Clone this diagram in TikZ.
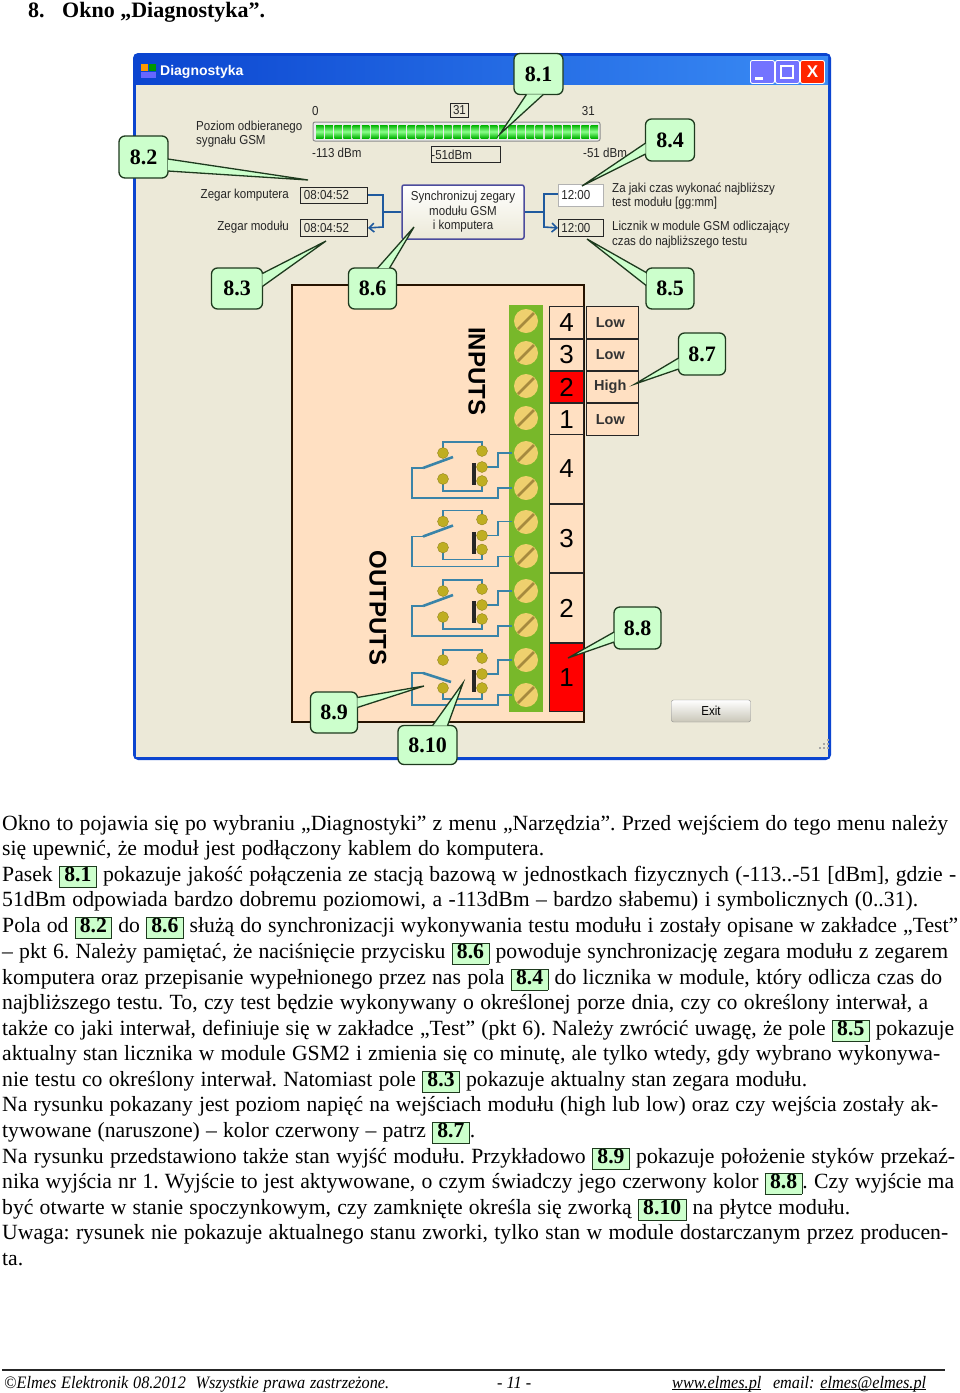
\documentclass[tikz,border=0pt]{standalone}
\usepackage{fontspec}
\setmainfont{Liberation Serif}
\newfontfamily\uifont{Liberation Sans}
\newfontfamily\uinarrow[FakeStretch=0.89]{Liberation Sans}
\newfontfamily\footfont[FakeStretch=0.93]{Liberation Serif}
\usetikzlibrary{matrix,arrows.meta}

\definecolor{wingrey}{HTML}{ECE9D8}
\definecolor{winblue}{HTML}{0B45D0}
\definecolor{titlelight}{HTML}{3A8CF5}
\definecolor{boardpeach}{HTML}{FFE0C2}
\definecolor{stripgreen}{HTML}{78B82A}
\definecolor{screwyellow}{HTML}{EFD06E}
\definecolor{screwbrown}{HTML}{A68A3E}
\definecolor{wireblue}{HTML}{3A84A8}
\definecolor{ballolive}{HTML}{BFAE22}
\definecolor{lblgreen}{HTML}{CCFFCC}
\definecolor{lblline}{HTML}{1E3A1E}
\definecolor{arrowblue}{HTML}{1F5A9E}

\frenchspacing
\setlength{\fboxrule}{0.8pt}
\setlength{\fboxsep}{0pt}
\newcommand{\lbl}[1]{\fcolorbox{lblline}{lblgreen}{\kern4.5pt\rule[-5.5pt]{0pt}{20pt}\textbf{#1}\kern4.5pt}}
\newcommand{\fillline}[2]{\makebox[#1pt][s]{#2}}
\newlength{\ulwidth}
\newcommand{\ulined}[1]{\settowidth{\ulwidth}{#1}\rlap{\rule[-2.2pt]{\ulwidth}{0.8pt}}#1}

\begin{document}
\begin{tikzpicture} [x=1pt, y=-1pt,
	bodyline/.style={anchor=base west, inner sep=0pt, font=\fontsize{21.7}{25}\selectfont},
	footline/.style={bodyline, font=\footfont\itshape\fontsize{17.5}{20}\selectfont},
	uilabel/.style={anchor=west, inner sep=0pt, font=\uinarrow\fontsize{13}{14}\selectfont, text=black!85},
	uilabelr/.style={uilabel, anchor=east},
	uibox/.style={draw=black!85, line width=0.9pt, inner sep=0pt, anchor=north west, font=\uinarrow\fontsize{13}{14}\selectfont, text=black!85},
	titlebtn/.style={draw=white, line width=0.9pt, rounded corners=2pt, anchor=north west, minimum width=24pt, minimum height=23pt, inner sep=0pt},
	calloutbox/.style={draw=lblline, fill=lblgreen, line width=1.3pt, rounded corners=6pt, inner sep=0pt, font=\bfseries\fontsize{22}{25}\selectfont},
	tailline/.style={draw=lblline, fill=lblgreen, line width=1.3pt, line join=miter},
	wire/.style={draw=wireblue, line width=1.2pt},
	ball/.style={circle, fill=ballolive, draw=ballolive!70!black, line width=0.3pt, minimum size=11pt, inner sep=0pt},
	bluelink/.style={draw=arrowblue, line width=1.6pt}]
	\useasboundingbox[fill=white] (0,0) rectangle (960,1393);

	% heading
	\node[bodyline, font=\bfseries\fontsize{22}{25}\selectfont] (headnr) at (28,17) {8.};
	\node[bodyline, font=\bfseries\fontsize{22}{25}\selectfont] (headtxt) at (62,17) {Okno „Diagnostyka”.};

	% window
	\fill[winblue, rounded corners=5pt] (133,53) rectangle (831,760);
	\shade[left color=winblue, right color=titlelight] (136,56) rectangle (828,85);
	\fill[wingrey] (136,85) rectangle (828,757);
	\fill[orange!80!yellow] (141,64) rectangle (148,71);
	\fill[green!60!black] (149,64) rectangle (156,71);
	\fill[blue!60] (141,72) rectangle (156,78);
	\node[uilabel, text=white, font=\uifont\bfseries\fontsize{14}{16}\selectfont] (wintitle) at (160,72) {Diagnostyka};
	\node[titlebtn, fill=blue!55!white] (btnmin) at (750,60) {};
	\node[titlebtn, fill=blue!55!white] (btnmax) at (775,60) {};
	\node[titlebtn, fill=red!70!orange] (btnclose) at (800,60) {\textcolor{white}{\uifont\bfseries\fontsize{17}{17}\selectfont X}};
	\fill[white] (755,77) rectangle (763,80);
	\draw[white, line width=1.4pt] (781,66) rectangle (793,78);
	\foreach \i in {0,1,2}
		\foreach \j in {0,...,\i}
			\fill[black!35] (827-\j*4,755-\i*4+\j*4-8) rectangle ++(2,2);

	% signal level
	\node[uilabel] (lev0) at (312,111) {0};
	\node[uibox, minimum width=18pt, minimum height=14pt] (levbox) at (450,103) {31};
	\node[uilabelr] (levmax) at (595,111) {31};
	\node[uilabel] (levtxta) at (196,127) {Poziom odbieranego};
	\node[uilabel] (levtxtb) at (196,141) {sygnału GSM};
	\draw[black!45, fill=black!8, line width=1pt, rounded corners=2pt] (313,122) rectangle (600,141);
	\foreach \i in {0,...,30}
		\shade[top color=green!70!black, bottom color=green!70!black, middle color=green!45!white] (316+\i*9.15,125) rectangle ++(7.6,13);
	\node[uilabel] (dbmmin) at (312,153) {-113 dBm};
	\node[uibox, minimum width=68pt, minimum height=16pt, align=left] (dbmbox) at (431,146) {-51dBm\hspace*{28pt}};
	\node[uilabel] (dbmmax) at (583,153) {-51 dBm};

	% clocks
	\node[uilabelr] (pclabel) at (289,195) {Zegar komputera};
	\node[uilabelr] (modlabel) at (289,227) {Zegar modułu};
	\node[uibox, fill=wingrey, minimum width=67pt, minimum height=16pt] (pcclock) at (300,187) {08:04:52\hspace*{15pt}};
	\node[uibox, fill=wingrey, minimum width=67pt, minimum height=17pt] (modclock) at (300,219) {08:04:52\hspace*{15pt}};
	\node[draw=blue!45!black!70!white, line width=1.5pt, top color=white, bottom color=wingrey, rounded corners=2pt, minimum width=122pt, minimum height=54pt, inner sep=0pt, align=center, font=\uinarrow\fontsize{13}{14.5}\selectfont, text=black!85] (syncbtn) at (463,212) {Synchronizuj zegary\\modułu GSM\\i komputera};
	\node[uibox, draw=black!30, line width=0.6pt, fill=white, minimum width=45pt, minimum height=22pt] (testset) at (558,184) {12:00\hspace*{10pt}};
	\node[uibox, fill=wingrey, minimum width=45pt, minimum height=17pt] (testcnt) at (558,219) {12:00\hspace*{10pt}};
	\node[uilabel] (settxta) at (612,189) {Za jaki czas wykonać najbliższy};
	\node[uilabel] (settxtb) at (612,203) {test modułu [gg:mm]};
	\node[uilabel] (cnttxta) at (612,227) {Licznik w module GSM odliczający};
	\node[uilabel] (cnttxtb) at (612,242) {czas do najbliższego testu};

	\draw[bluelink] (syncbtn.west) -- (383,212) -- (383,195) -- (pcclock.east |- 0,195);
	\draw[bluelink, -{Straight Barb[length=5pt,width=9pt]}] (383,212) -- (383,227) -- (modclock.east);
	\draw[bluelink] (syncbtn.east) -- (544,212) -- (544,194) -- (testset.west |- 0,194);
	\draw[bluelink, -{Straight Barb[length=5pt,width=9pt]}] (544,212) -- (544,227) -- (testcnt.west);

	% board
	\draw[fill=boardpeach, draw=black!85!orange, line width=1.5pt] (292,285) rectangle (584,722);
	\fill[stripgreen] (509,305) rectangle (543,712);
	\foreach \sy in {321,353,386,418,453,488,522,556,591,625,660,695} {
		\fill[screwyellow] (526,\sy) circle (12);
		\draw[screwbrown, line width=2.6pt] (518,\sy+8) -- (534,\sy-8);
	}
	\node[rotate=-90, inner sep=0pt, font=\uifont\bfseries\fontsize{24}{26}\selectfont] (inputstxt) at (477,371) {INPUTS};
	\node[rotate=-90, inner sep=0pt, font=\uifont\bfseries\fontsize{24}{26}\selectfont] (outputstxt) at (378,608) {OUTPUTS};

	% relays
	\foreach \ry [count=\ri] in {0,68.5,138} {
		\draw[wire] (443,453+\ry) -- (443,442+\ry) -- (482,442+\ry) -- (482,451+\ry);
		\draw[wire] (443,479+\ry) -- (443,491+\ry) -- (482,491+\ry) -- (482,481+\ry);
		\draw[wire] (482,467+\ry) -- (498,467+\ry) -- (498,453+\ry) -- (512,453+\ry);
		\draw[wire] (423,468+\ry) -- (412,468+\ry) -- (412,498+\ry) -- (498,498+\ry) -- (498,488+\ry) -- (512,488+\ry);
		\draw[wireblue, line width=2.6pt] (423,468+\ry) -- (453,457+\ry);
		\fill[black!85] (472,463+\ry) rectangle (476,485+\ry);
		\node[ball] (balla\ri) at (443,453+\ry) {};
		\node[ball] (ballb\ri) at (443,479+\ry) {};
		\node[ball] (ballc\ri) at (482,451+\ry) {};
		\node[ball] (balld\ri) at (482,467+\ry) {};
		\node[ball] (balle\ri) at (482,481+\ry) {};
	}
	\draw[wire] (443,660) -- (443,650) -- (482,650) -- (482,658);
	\draw[wire] (443,688) -- (443,699) -- (482,699) -- (482,688);
	\draw[wire] (482,674) -- (498,674) -- (498,660) -- (512,660);
	\draw[wire] (423,673) -- (412,673) -- (412,705) -- (498,705) -- (498,695) -- (512,695);
	\draw[wireblue, line width=2.6pt] (423,673) -- (451,682);
	\fill[black!85] (472,670) rectangle (476,692);
	\node[ball] (balla4) at (443,660) {};
	\node[ball] (ballb4) at (443,688) {};
	\node[ball] (ballc4) at (482,658) {};
	\node[ball] (balld4) at (482,674) {};
	\node[ball] (balle4) at (482,688) {};

	% input and output tables
	\matrix(inputs)[matrix of nodes, anchor=north west, inner sep=0pt, outer sep=0pt,
	row sep=-\pgflinewidth, column sep=2pt,
	column 1/.style={nodes={minimum width=34pt, font=\uifont\fontsize{26}{26}\selectfont}},
	column 2/.style={nodes={minimum width=52pt, font=\uifont\bfseries\fontsize{14.5}{16}\selectfont, text=black!80, execute at end node=\hspace*{5pt}}},
	row 3 column 1/.style={nodes={fill=red}},
	nodes={anchor=center, draw=black!85, line width=1.2pt, fill=boardpeach, minimum height=31.6pt, inner sep=0pt, outer sep=0pt}] at (549,306)
	{
		4 & Low \\
		3 & Low \\
		2 & High \\
		1 & Low \\
	};
	\matrix(outputs)[matrix of nodes, anchor=north west, inner sep=0pt, outer sep=0pt,
	row sep=-\pgflinewidth,
	row 4/.style={nodes={fill=red}},
	nodes={anchor=center, draw=black!85, line width=1.2pt, fill=boardpeach, minimum width=34pt, minimum height=68.7pt, inner sep=0pt, outer sep=0pt, font=\uifont\fontsize{26}{26}\selectfont}] at (549,434)
	{
		4 \\
		3 \\
		2 \\
		1 \\
	};

	% exit
	\node[draw=black!45, top color=white, bottom color=wingrey!85!black, rounded corners=2pt, minimum width=79pt, minimum height=22pt, inner sep=0pt, font=\uinarrow\fontsize{13}{14}\selectfont] (exitbtn) at (711,711) {Exit};

	% callouts
	\node[calloutbox, minimum width=49pt, minimum height=41pt] (lab81) at (538.5,74) {8.1};
	\node[calloutbox, minimum width=49pt, minimum height=42pt] (lab82) at (143.5,157) {8.2};
	\node[calloutbox, minimum width=51pt, minimum height=41pt] (lab83) at (237,288.5) {8.3};
	\node[calloutbox, minimum width=48pt, minimum height=41pt] (lab86) at (372.5,288.5) {8.6};
	\node[calloutbox, minimum width=49pt, minimum height=42pt] (lab84) at (670,140) {8.4};
	\node[calloutbox, minimum width=48pt, minimum height=41pt] (lab85) at (670,288.5) {8.5};
	\node[calloutbox, minimum width=47pt, minimum height=42pt] (lab87) at (702,354) {8.7};
	\node[calloutbox, minimum width=47pt, minimum height=42pt] (lab88) at (637.5,628) {8.8};
	\node[calloutbox, minimum width=47pt, minimum height=41pt] (lab89) at (334,712.5) {8.9};
	\node[calloutbox, minimum width=59pt, minimum height=39pt] (lab810) at (427.5,745) {8.10};

	\coordinate (tip81) at (500,134);
	\coordinate (tip82) at (308,180);
	\coordinate (tip83) at (326,241);
	\coordinate (tip86) at (414,227);
	\coordinate (tip84) at (582,186);
	\coordinate (tip85) at (587,239);
	\coordinate (tip87) at (635,384);
	\coordinate (tip88) at (568,658);
	\coordinate (tip89) at (424,686);
	\coordinate (tip810) at (463,683);

	\draw[tailline] ([xshift=-12pt,yshift=0.8pt]lab81.south) -- (tip81) -- ([xshift=5pt,yshift=0.8pt]lab81.south);
	\draw[tailline] ([xshift=-0.8pt,yshift=-2pt]lab82.east) -- (tip82) -- ([xshift=-0.8pt,yshift=-14pt]lab82.east);
	\draw[tailline] ([xshift=-0.8pt,yshift=15pt]lab83.east) -- (tip83) -- ([xshift=-0.8pt,yshift=2pt]lab83.east);
	\draw[tailline] ([xshift=5pt,yshift=-0.8pt]lab86.north) -- (tip86) -- ([xshift=17pt,yshift=-0.8pt]lab86.north);
	\draw[tailline] ([xshift=0.8pt,yshift=-3pt]lab84.west) -- (tip84) -- ([xshift=0.8pt,yshift=-14pt]lab84.west);
	\draw[tailline] ([xshift=0.8pt,yshift=16pt]lab85.west) -- (tip85) -- ([xshift=0.8pt,yshift=3pt]lab85.west);
	\draw[tailline] ([xshift=0.8pt,yshift=-4pt]lab87.west) -- (tip87) -- ([xshift=0.8pt,yshift=-15pt]lab87.west);
	\draw[tailline] ([xshift=0.8pt,yshift=-4pt]lab88.west) -- (tip88) -- ([xshift=0.8pt,yshift=-14pt]lab88.west);
	\draw[tailline] ([xshift=-0.8pt,yshift=15pt]lab89.east) -- (tip89) -- ([xshift=-0.8pt,yshift=5pt]lab89.east);
	\draw[tailline] ([xshift=5pt,yshift=-0.8pt]lab810.north) -- (tip810) -- ([xshift=20pt,yshift=-0.8pt]lab810.north);

	% text
	\node[bodyline] (line1) at (2,830) {\fillline{946}{Okno to pojawia się po wybraniu „Diagnostyki” z menu „Narzędzia”. Przed wejściem do tego menu należy}};
	\node[bodyline] (line2) at (2,855.5) {\fillline{542}{się upewnić, że moduł jest podłączony kablem do komputera.}};
	\node[bodyline] (line3) at (2,881) {\fillline{954}{Pasek \lbl{8.1} pokazuje jakość połączenia ze stacją bazową w jednostkach fizycznych (-113..-51 [dBm], gdzie -}};
	\node[bodyline] (line4) at (2,906.5) {\fillline{916}{51dBm odpowiada bardzo dobremu poziomowi, a -113dBm – bardzo słabemu) i symbolicznych (0..31).}};
	\node[bodyline] (line5) at (2,932) {\fillline{956}{Pola od \lbl{8.2} do \lbl{8.6} służą do synchronizacji wykonywania testu modułu i zostały opisane w zakładce „Test”}};
	\node[bodyline] (line6) at (2,958) {\fillline{946}{– pkt 6. Należy pamiętać, że naciśnięcie przycisku \lbl{8.6} powoduje synchronizację zegara modułu z zegarem}};
	\node[bodyline] (line7) at (2,984) {\fillline{940}{komputera oraz przepisanie wypełnionego przez nas pola \lbl{8.4} do licznika w module, który odlicza czas do}};
	\node[bodyline] (line8) at (2,1009) {\fillline{926}{najbliższego testu. To, czy test będzie wykonywany o określonej porze dnia, czy co określony interwał, a}};
	\node[bodyline] (line9) at (2,1035) {\fillline{952}{także co jaki interwał, definiuje się w zakładce „Test” (pkt 6). Należy zwrócić uwagę, że pole \lbl{8.5} pokazuje}};
	\node[bodyline] (line10) at (2,1060) {\fillline{938}{aktualny stan licznika w module GSM2 i zmienia się co minutę, ale tylko wtedy, gdy wybrano wykonywa-}};
	\node[bodyline] (line11) at (2,1086) {\fillline{805}{nie testu co określony interwał. Natomiast pole \lbl{8.3} pokazuje aktualny stan zegara modułu.}};
	\node[bodyline] (line12) at (2,1111) {\fillline{936}{Na rysunku pokazany jest poziom napięć na wejściach modułu (high lub low) oraz czy wejścia zostały ak-}};
	\node[bodyline] (line13) at (2,1137) {\fillline{473}{tywowane (naruszone) – kolor czerwony – patrz \lbl{8.7}.}};
	\node[bodyline] (line14) at (2,1163) {\fillline{953}{Na rysunku przedstawiono także stan wyjść modułu. Przykładowo \lbl{8.9} pokazuje położenie styków przekaź-}};
	\node[bodyline] (line15) at (2,1188) {\fillline{952}{nika wyjścia nr 1. Wyjście to jest aktywowane, o czym świadczy jego czerwony kolor \lbl{8.8}. Czy wyjście ma}};
	\node[bodyline] (line16) at (2,1214) {\fillline{848}{być otwarte w stanie spoczynkowym, czy zamknięte określa się zworką \lbl{8.10} na płytce modułu.}};
	\node[bodyline] (line17) at (2,1239) {\fillline{946}{Uwaga: rysunek nie pokazuje aktualnego stanu zworki, tylko stan w module dostarczanym przez producen-}};
	\node[bodyline] (line18) at (2,1265) {ta.};

	% footer
	\draw[black!85, line width=2pt] (2,1370) -- (945,1370);
	\node[footline] (footl) at (4,1388) {\fillline{385}{©Elmes Elektronik 08.2012\ \ Wszystkie prawa zastrzeżone.}};
	\node[footline] (footm) at (497,1388) {- 11 -};
	\node[footline] (footr) at (672,1388) {\fillline{254}{\ulined{www.elmes.pl}\ \ email: \ulined{elmes@elmes.pl}}};
\end{tikzpicture}
\end{document}
